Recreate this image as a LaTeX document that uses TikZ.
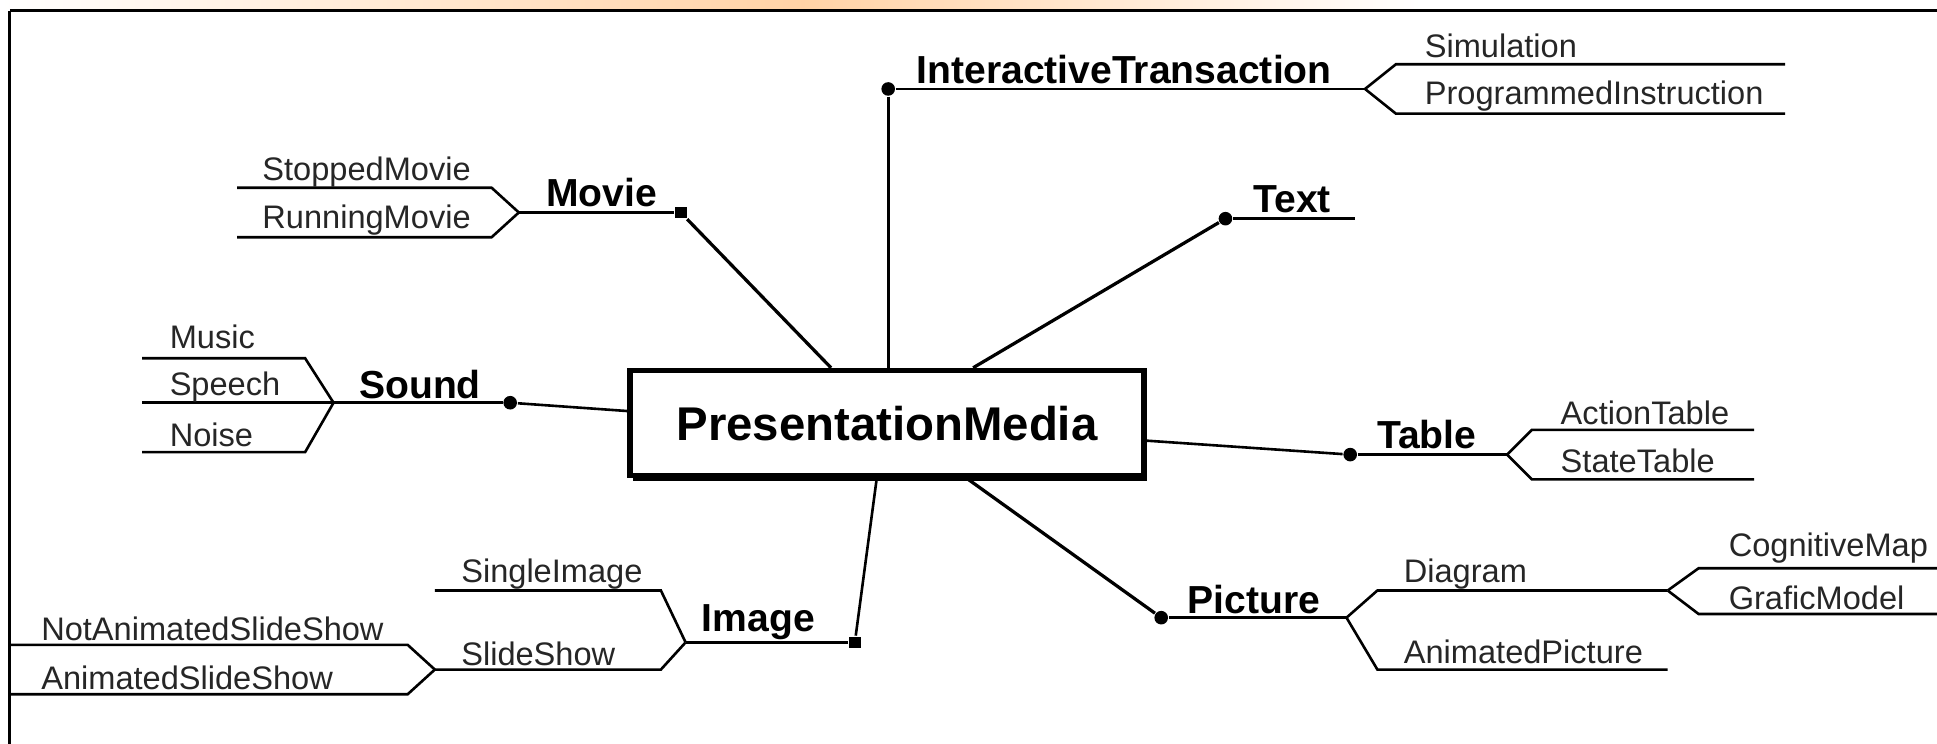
\documentclass[tikz,border=0pt]{standalone}
\usepackage{fontspec}
\setmainfont{Liberation Sans}
\usetikzlibrary{
  positioning,
  calc,
  shadows
}

\begin{document}
\begin{tikzpicture}[
  x=0.01cm, y=-0.01cm,
  every node/.style={font=\fontsize{7.5}{9}\selectfont, text=black!85},
  link/.style={line width=0.6pt, line join=miter},
  spoke/.style={line width=0.75pt},
  cat/.style={font=\fontsize{9}{11}\selectfont\bfseries, text=black},
  leaf/.style={anchor=west},
  dotm/.style={circle, fill=black, inner sep=0pt, minimum size=0.11cm},
  sqm/.style={rectangle, fill=black, inner sep=0pt, minimum size=0.095cm},
  hub/.style={draw, line width=1.3pt, fill=white, minimum width=4.16cm,
    minimum height=0.85cm, font=\fontsize{10.9}{13}\selectfont\bfseries, text=black,
    drop shadow={shadow xshift=0.025cm, shadow yshift=-0.04cm, opacity=1, fill=black}}
]
  \useasboundingbox (0,0) rectangle (1568,602);

  % band and frame
  \shade[left color=white, right color=orange!35] (0,0) rectangle (650,7);
  \shade[left color=orange!35, right color=white] (650,0) rectangle (1150,7);
  \draw[line width=0.9pt] (8,8.5) -- (1568,8.5);
  \draw[line width=0.7pt] (8,8.5) -- (8,602);

  % centre
  \node[hub] (hub) at (718,342.5) {PresentationMedia};

  % movie
  \node[sqm] (msq) at (551,172) {};
  \coordinate (mfork) at (420,172);
  \node[cat] (movie) at (487,156) {Movie};
  \draw[spoke] ([xshift=1.65cm]hub.north west) -- (msq);
  \draw[link] (msq) -- (mfork);
  \draw[link] (mfork) -- ++(-22,-20) -- ++(-206,0);
  \draw[link] (mfork) -- ++(-22,20) -- ++(-206,0);
  \node[leaf] (stopped) at (200,139) {StoppedMovie};
  \node[leaf] (running) at (200,178) {RunningMovie};

  % interactive transaction
  \node[dotm] (idot) at (719,72) {};
  \coordinate (ifork) at (1105,72);
  \node[cat] (inter) at (910,56) {InteractiveTransaction};
  \draw[link] (idot) -- (idot |- hub.north);
  \draw[link] (idot) -- (ifork);
  \draw[link] (ifork) -- ++(25,-20) -- ++(315,0);
  \draw[link] (ifork) -- ++(25,20) -- ++(315,0);
  \node[leaf] (simul) at (1141,37) {Simulation};
  \node[leaf] (progr) at (1141,78) {ProgrammedInstruction};

  % text
  \node[dotm] (tdot) at (992,177) {};
  \node[cat] (text) at (1046,161) {Text};
  \draw[spoke] ([xshift=2.8cm]hub.north west) -- (tdot);
  \draw[link] (tdot) -- ++(105,0);

  % sound
  \node[dotm] (sdot) at (413,326) {};
  \coordinate (sfork) at (270,326);
  \node[cat] (sound) at (340,311) {Sound};
  \draw[link] (sdot) -- ([yshift=-0.35cm]hub.north west);
  \draw[link] (sfork) -- (sdot);
  \draw[link] (sfork) -- ++(-23,-36) -- ++(-132,0);
  \draw[link] (sfork) -- ++(-155,0);
  \draw[link] (sfork) -- ++(-23,40) -- ++(-132,0);
  \node[leaf] (music) at (125,273) {Music};
  \node[leaf] (speech) at (125,313) {Speech};
  \node[leaf] (noise) at (125,352) {Noise};

  % table
  \node[dotm] (tbdot) at (1093,368) {};
  \coordinate (tbfork) at (1220,368);
  \node[cat] (table) at (1155,352) {Table};
  \draw[link] ([yshift=-0.59cm]hub.north east) -- (tbdot);
  \draw[link] (tbdot) -- (tbfork);
  \draw[link] (tbfork) -- ++(20,-20) -- ++(180,0);
  \draw[link] (tbfork) -- ++(20,20) -- ++(180,0);
  \node[leaf] (action) at (1251,334) {ActionTable};
  \node[leaf] (state) at (1251,373) {StateTable};

  % picture
  \node[dotm] (pdot) at (940,500) {};
  \coordinate (pfork) at (1090,500);
  \coordinate (dfork) at (1350,478);
  \node[cat] (picture) at (1015,485) {Picture};
  \draw[spoke] ([xshift=2.75cm]hub.south west) -- (pdot);
  \draw[link] (pdot) -- (pfork);
  \draw[link] (pfork) -- ++(25,-22) -- (dfork);
  \draw[link] (pfork) -- ++(25,42) -- ++(235,0);
  \draw[link] (dfork) -- ++(25,-18) -- ++(193,0);
  \draw[link] (dfork) -- ++(25,19) -- ++(193,0);
  \node[leaf] (diagram) at (1124,465) {Diagram};
  \node[leaf] (animpic) at (1124,528) {AnimatedPicture};
  \node[leaf] (cogmap) at (1387,444) {CognitiveMap};
  \node[leaf] (grafic) at (1387,484) {GraficModel};

  % image
  \node[sqm] (isq) at (692,520) {};
  \coordinate (imfork) at (555,520);
  \coordinate (ssfork) at (352,542);
  \node[cat] (image) at (614,504) {Image};
  \draw[link] ([xshift=2.02cm]hub.south west) -- (isq);
  \draw[link] (isq) -- (imfork);
  \draw[link] (imfork) -- ++(-20,-42) -- ++(-183,0);
  \draw[link] (imfork) -- ++(-20,22) -- (ssfork);
  \draw[link] (ssfork) -- ++(-22,-20) -- ++(-322,0);
  \draw[link] (ssfork) -- ++(-22,20) -- ++(-322,0);
  \node[leaf] (single) at (361,465) {SingleImage};
  \node[leaf] (slide) at (361,529) {SlideShow};
  \node[leaf] (notanim) at (21,509) {NotAnimatedSlideShow};
  \node[leaf] (animslide) at (21,549) {AnimatedSlideShow};

\end{tikzpicture}
\end{document}
